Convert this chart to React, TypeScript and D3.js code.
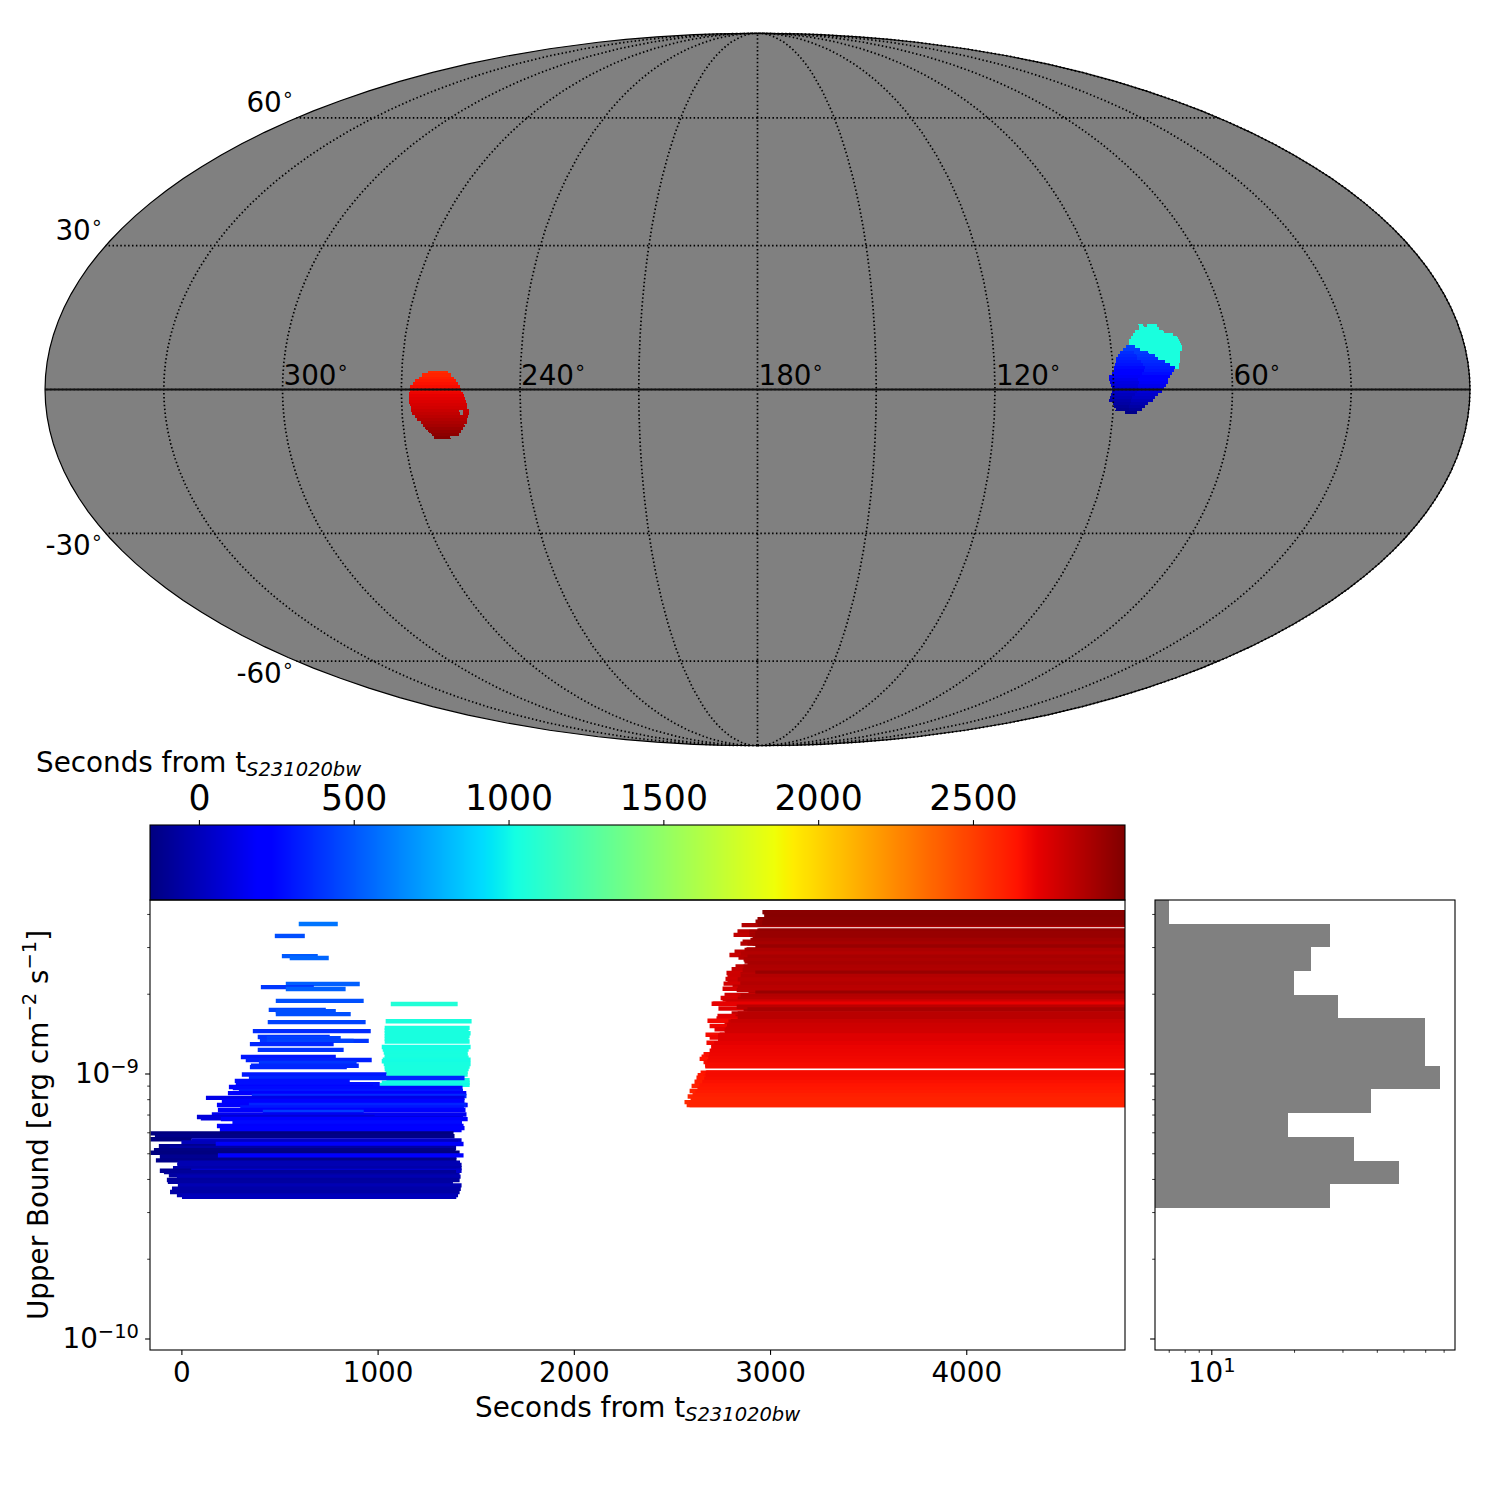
import { useRef, useEffect } from 'react';
import * as d3 from 'd3';

// [start s, end s, log10 upper bound]
const cyanBars = [
  [1067, 1408, -8.738], [1041, 1479, -8.803], [1036, 1469, -8.828], [1036, 1464, -8.838],
  [1036, 1474, -8.848], [1036, 1469, -8.859], [1036, 1464, -8.869], [1036, 1469, -8.879],
  [1021, 1474, -8.9], [1026, 1464, -8.91], [1031, 1459, -8.921], [1036, 1459, -8.932],
  [1036, 1464, -8.94], [1026, 1474, -8.948], [1021, 1469, -8.954], [1031, 1474, -8.964],
  [1036, 1469, -8.974], [1036, 1464, -8.983], [1041, 1459, -8.994], [1046, 1459, -9.004],
  [1045, 1469, -9.025], [1021, 1469, -9.035], [1011, 1469, -9.043],
];

const blueBars = [
  [598, 797, -8.436], [476, 629, -8.481], [512, 695, -8.557], [552, 751, -8.564],
  [532, 909, -8.662], [405, 675, -8.674], [532, 837, -8.681], [481, 929, -8.726],
  [445, 736, -8.76], [481, 787, -8.765], [481, 863, -8.776], [440, 939, -8.806],
  [364, 965, -8.84], [389, 756, -8.862], [435, 812, -8.867], [400, 955, -8.877],
  [435, 878, -8.877], [349, 776, -8.889], [389, 827, -8.911], [303, 787, -8.938],
  [328, 970, -8.949], [395, 893, -8.96], [354, 904, -8.971], [349, 843, -8.976],
  [308, 1045, -9.004], [344, 1443, -9.017], [272, 858, -9.028], [277, 1011, -9.04],
  [242, 977, -9.051], [262, 1433, -9.055], [293, 1435, -9.066], [237, 1452, -9.074],
  [359, 1453, -9.085], [125, 1443, -9.092], [206, 1443, -9.104], [230, 1440, -9.111],
  [181, 1459, -9.119], [344, 1452, -9.119], [300, 1440, -9.128], [186, 1448, -9.138],
  [415, 929, -9.145], [155, 1453, -9.155], [79, 985, -9.164], [99, 1435, -9.169],
  [201, 1459, -9.172], [260, 1430, -9.185], [181, 1438, -9.198], [216, 1443, -9.206],
  [196, 1428, -9.213], [-157, 1387, -9.226], [-135, 1392, -9.237], [-157, 53, -9.248],
  [52, 1428, -9.253], [0, 1410, -9.26], [-115, 1397, -9.274], [175, 1438, -9.266],
  [-60, 1400, -9.281], [-140, 1397, -9.289], [-157, 1418, -9.299], [-110, 1402, -9.314],
  [186, 1438, -9.309], [-130, 1402, -9.328], [-20, 1420, -9.337], [-21, 1428, -9.345],
  [-43, 1428, -9.357], [-110, 1400, -9.367], [50, 1428, -9.367], [-89, 1400, -9.372],
  [-64, 1418, -9.384], [-23, 1423, -9.389], [-74, 1418, -9.402], [-69, 1384, -9.409],
  [-18, 1428, -9.422], [-48, 1424, -9.435], [-58, 1418, -9.447], [-23, 1410, -9.459],
  [3, 1401, -9.465],
];

// these all run past the right edge, [start s, log10 upper bound]
const redEnd = 5000;
const redBars = [
  [2961, -8.391], [2987, -8.402], [2936, -8.418], [2926, -8.427], [2855, -8.44], [2936, -8.436],
  [2834, -8.464], [2941, -8.461], [2895, -8.466], [2814, -8.477], [2895, -8.477], [2911, -8.491],
  [2860, -8.503], [2849, -8.51], [2911, -8.51], [2987, -8.521], [2880, -8.532], [2819, -8.54],
  [2895, -8.547], [2793, -8.553], [2839, -8.562], [2865, -8.569], [2870, -8.578], [2895, -8.584],
  [2824, -8.596], [2804, -8.606], [2916, -8.62], [2778, -8.621], [2849, -8.625], [2783, -8.632],
  [2773, -8.643], [2849, -8.645], [2783, -8.654], [2763, -8.661], [2849, -8.66], [2809, -8.672],
  [2758, -8.68], [2890, -8.695], [2768, -8.704], [2839, -8.713], [2748, -8.715], [2758, -8.72],
  [2773, -8.729], [2702, -8.737], [2737, -8.755], [2865, -8.758], [2804, -8.773], [2732, -8.783],
  [2824, -8.786], [2727, -8.792], [2681, -8.801], [2788, -8.805], [2768, -8.817], [2692, -8.821],
  [2717, -8.833], [2768, -8.836], [2671, -8.854], [2743, -8.854], [2692, -8.864], [2743, -8.874],
  [2676, -8.884], [2702, -8.896], [2692, -8.914], [2661, -8.927], [2651, -8.937], [2671, -8.939],
  [2641, -8.945], [2661, -8.957], [2671, -8.97], [2646, -8.997], [2676, -8.997], [2631, -9.006],
  [2661, -9.012], [2625, -9.016], [2615, -9.031], [2656, -9.046], [2600, -9.047], [2590, -9.066],
  [2580, -9.087], [2564, -9.108], [2575, -9.119],
];
// the later starts that show as the stripes further right
const redInnerBars = [
  [2965, -8.391], [2970, -8.405], [2965, -8.418], [2960, -8.431], [2935, -8.461], [2925, -8.471],
  [2925, -8.484], [2900, -8.496], [2885, -8.509], [2925, -8.521], [2870, -8.534], [2850, -8.547],
  [2885, -8.559], [2870, -8.572], [2885, -8.584], [2865, -8.597], [2860, -8.609], [2925, -8.62],
  [2850, -8.632], [2835, -8.645], [2850, -8.66], [2835, -8.675], [2830, -8.685], [2925, -8.695],
  [2850, -8.706], [2835, -8.718], [2780, -8.728], [2710, -8.737], [2830, -8.748], [2885, -8.758],
  [2835, -8.773], [2835, -8.788], [2800, -8.803], [2781, -8.817], [2775, -8.831], [2770, -8.843],
  [2735, -8.856], [2735, -8.871], [2715, -8.886], [2700, -8.901], [2695, -8.916], [2690, -8.929],
  [2685, -8.942], [2680, -8.954], [2670, -8.967], [2670, -8.973], [2672, -8.997], [2672, -9.007],
  [2665, -9.02], [2655, -9.032], [2640, -9.045], [2630, -9.057], [2620, -9.07], [2605, -9.082],
  [2595, -9.095], [2590, -9.108], [2590, -9.119],
];

// histogram of the upper bounds
const histEdgesLog = [-8.345, -8.436, -8.523, -8.613, -8.704, -8.791, -8.881, -8.972, -9.058, -9.149, -9.24, -9.33, -9.417, -9.508];
const histCounts = [7, 27, 23, 20, 29, 60, 60, 68, 38, 19, 33, 48, 27];

// sky rows: [lat, lon east end, lon west end, seconds east half, seconds west half]
const skyCyanRows = [
  [13.06, 82.1, 80.9, 1040, 1040], [13.06, 80.0, 77.4, 1040, 1040], [12.45, 82.2, 77.1, 1040, 1040],
  [11.83, 83.4, 76.0, 1040, 1040], [11.2, 84.0, 73.7, 1040, 1040], [10.6, 84.6, 72.7, 1040, 1040],
  [10.0, 85.2, 72.4, 1040, 1040], [9.37, 85.3, 72.2, 1040, 1040], [8.76, 83.9, 72.0, 1040, 1040],
  [8.15, 82.7, 72.1, 1040, 1040], [7.53, 80.7, 72.7, 1040, 1040], [6.92, 79.1, 72.8, 1040, 1040],
  [6.3, 78.4, 72.8, 1040, 1040], [5.69, 76.7, 72.9, 1040, 1040], [5.08, 75.5, 73.2, 1040, 1040],
  [4.46, 74.3, 73.4, 1040, 1040],
];
const skyBlueRows = [
  [8.76, 86.2, 83.9, 430, 430], [8.15, 87.0, 82.7, 420, 420], [7.53, 87.9, 80.7, 370, 420],
  [6.92, 88.5, 79.1, 350, 400], [6.3, 89.1, 78.4, 330, 380], [5.69, 89.1, 76.7, 310, 360],
  [5.08, 89.4, 75.5, 290, 340], [4.46, 89.7, 74.3, 260, 320], [3.85, 89.8, 74.6, 240, 300],
  [3.23, 90.3, 75.2, 210, 270], [2.62, 91.1, 75.7, 170, 230], [2.0, 91.2, 76.3, 140, 200],
  [1.39, 90.9, 76.3, 110, 170], [0.78, 90.7, 76.8, 90, 140], [0.16, 90.4, 77.3, 60, 110],
  [-0.45, 90.4, 77.8, 40, 80], [-1.06, 90.7, 78.7, 10, 50], [-1.68, 90.9, 79.6, -10, 30],
  [-2.29, 91.2, 80.0, -40, 0], [-2.9, 90.1, 81.3, -60, -30], [-3.52, 89.9, 82.0, -90, -60],
  [-4.13, 89.4, 82.8, -110, -90], [-4.75, 87.0, 84.0, -130, -130],
];
const skyRedRows = [
  [3.58, 263.3, 258.2, 2570, 2570], [2.97, 264.8, 257.5, 2590, 2590],
  [2.35, 265.6, 256.7, 2610, 2610], [1.74, 266.6, 256.2, 2630, 2630], [1.13, 267.0, 255.7, 2650, 2650],
  [0.51, 267.8, 255.2, 2665, 2665], [-0.1, 267.8, 254.9, 2680, 2680], [-0.72, 268.0, 254.4, 2695, 2695],
  [-1.33, 268.0, 254.2, 2710, 2710], [-1.94, 268.0, 253.9, 2725, 2725], [-2.56, 268.0, 253.7, 2740, 2740],
  [-3.17, 267.9, 253.5, 2755, 2755], [-3.79, 267.7, 253.5, 2770, 2770], [-4.4, 267.7, 255.6, 2790, 2790],
  [-4.4, 254.6, 253.0, 2790, 2790], [-5.01, 267.5, 255.4, 2810, 2810], [-5.01, 254.6, 253.0, 2810, 2810],
  [-5.63, 266.8, 253.4, 2830, 2830], [-6.24, 266.4, 253.7, 2850, 2850], [-6.86, 265.4, 253.7, 2870, 2870],
  [-7.47, 265.0, 254.4, 2890, 2890], [-8.08, 264.4, 254.9, 2915, 2915], [-8.7, 263.7, 255.5, 2935, 2935],
  [-9.31, 263.0, 256.1, 2955, 2955], [-9.93, 262.4, 258.3, 2975, 2975],
];

const lonLabels = [300, 240, 180, 120, 60];
const latLabels = [
  { lat: '60', right: 294, base: 112 },
  { lat: '30', right: 103, base: 240 },
  { lat: '-30', right: 103, base: 555 },
  { lat: '-60', right: 294, base: 683 },
];
const colorbarTicks = [0, 500, 1000, 1500, 2000, 2500];
const timeTicks = [0, 1000, 2000, 3000, 4000];
const ubMajor = [1e-9, 1e-10];
const ubMinor = [2e-10, 3e-10, 4e-10, 5e-10, 6e-10, 7e-10, 8e-10, 9e-10, 2e-9, 3e-9, 4e-9];
const countMinor = [7, 8, 9, 20, 30, 40, 50, 60, 70];

const FONT = 'DejaVu Sans';
const FS = 27.8;
const GREY = '#808080';

// matplotlib's jet segments
const jetR = d3.scaleLinear().domain([0, 0.35, 0.66, 0.89, 1]).range([0, 0, 1, 1, 0.5]);
const jetG = d3.scaleLinear().domain([0, 0.125, 0.375, 0.64, 0.91, 1]).range([0, 0, 1, 1, 0, 0]);
const jetB = d3.scaleLinear().domain([0, 0.11, 0.34, 0.65, 1]).range([0.5, 1, 1, 0, 0]);
const jet = (f) => d3.rgb(jetR(f) * 255, jetG(f) * 255, jetB(f) * 255).formatRgb();

const mollweideRaw = (lambda, phi) => {
  let theta = phi;
  if (Math.abs(Math.abs(phi) - Math.PI / 2) > 1e-6) {
    for (let i = 0; i < 30; i++) {
      theta -= (2 * theta + Math.sin(2 * theta) - Math.PI * Math.sin(phi)) / (2 + 2 * Math.cos(2 * theta));
    }
  }
  return [(2 * Math.SQRT2 / Math.PI) * lambda * Math.cos(theta), Math.SQRT2 * Math.sin(theta)];
};

const App = () => {
  const svgRef = useRef(null);

  useEffect(() => {
    const svg = d3.select(svgRef.current);
    svg.selectAll('*').remove();

    const timeColor = d3.scaleLinear().domain([-158, 2991]).range([0, 1]);

    // ---- sky map
    const projection = d3.geoProjection(mollweideRaw)
      .rotate([-180, 0])
      .reflectX(true)
      .scale(251.9)
      .translate([757.5, 389.5])
      .precision(0.3);
    const path = d3.geoPath(projection);
    const sky = svg.append('g');
    sky.append('path').datum({ type: 'Sphere' }).attr('d', path).attr('fill', GREY);

    const cellHalf = 0.31;
    const cellPath = (lat, a, b) => {
      const p = [[a, lat + cellHalf], [b, lat + cellHalf], [b, lat - cellHalf], [a, lat - cellHalf]].map((c) => projection(c));
      return 'M' + p.join('L') + 'Z';
    };
    [skyCyanRows, skyBlueRows, skyRedRows].forEach((rows) => {
      rows.forEach(([lat, east, west, tEast, tWest]) => {
        const mid = (east + west) / 2;
        sky.append('path').attr('d', cellPath(lat, east, mid)).attr('fill', jet(timeColor(tEast))).attr('shape-rendering', 'crispEdges');
        sky.append('path').attr('d', cellPath(lat, mid, west)).attr('fill', jet(timeColor(tWest))).attr('shape-rendering', 'crispEdges');
      });
    });

    const graticule = d3.geoGraticule().extent([[-180, -90], [180.01, 90.01]]).step([30, 30]);
    sky.append('path').datum(graticule()).attr('d', path)
      .attr('fill', 'none').attr('stroke', '#000').attr('stroke-width', 1.7).attr('stroke-dasharray', '1.5 2.4');
    sky.append('path')
      .datum({ type: 'LineString', coordinates: [[0.01, 0], [90, 0], [180, 0], [270, 0], [359.99, 0]] })
      .attr('d', path).attr('fill', 'none').attr('stroke', '#111').attr('stroke-width', 1.8);
    sky.append('path').datum({ type: 'Sphere' }).attr('d', path)
      .attr('fill', 'none').attr('stroke', '#000').attr('stroke-width', 1.2);

    const ring = (sel) => sel.append('tspan').attr('font-size', 19.5).attr('dy', -11).text('\u2218');
    lonLabels.forEach((lon) => {
      const [x] = projection([lon, 0]);
      const t = sky.append('text').attr('x', x + 1).attr('y', 385).attr('font-family', FONT).attr('font-size', FS).text(lon);
      ring(t);
    });
    latLabels.forEach((d) => {
      const t = sky.append('text').attr('x', d.right).attr('y', d.base).attr('text-anchor', 'end')
        .attr('font-family', FONT).attr('font-size', FS).text(d.lat);
      ring(t);
    });

    const secondsLabel = (x, y) => {
      const t = svg.append('text').attr('x', x).attr('y', y).attr('font-family', FONT).attr('font-size', FS).text('Seconds from t');
      t.append('tspan').attr('font-size', 19.5).attr('font-style', 'italic').attr('dy', 4).text('S231020bw');
    };

    // ---- colorbar
    const cbX = d3.scaleLinear().domain([-158, 2991]).range([150, 1125]);
    const cb = svg.append('g');
    cb.selectAll('rect.level').data(d3.range(150, 1125)).join('rect')
      .attr('class', 'level')
      .attr('x', (d) => d)
      .attr('y', 825)
      .attr('width', 1)
      .attr('height', 75)
      .attr('shape-rendering', 'crispEdges')
      .attr('fill', (d) => jet(timeColor(cbX.invert(d + 0.5))));
    cb.append('rect').attr('x', 150).attr('y', 825).attr('width', 975).attr('height', 75)
      .attr('fill', 'none').attr('stroke', '#000').attr('stroke-width', 1.1);
    const cbAxis = cb.append('g').attr('transform', 'translate(0,825)')
      .call(d3.axisTop(cbX).tickValues(colorbarTicks).tickSize(4.9).tickPadding(10).tickFormat((d) => d));
    cbAxis.select('.domain').remove();
    cbAxis.selectAll('line').attr('stroke-width', 1.1);
    cbAxis.selectAll('text').attr('font-family', FONT).attr('font-size', 34.7);
    secondsLabel(36, 772);

    // ---- upper bound vs time
    const x = d3.scaleLinear().domain([-160, 4809]).range([150, 1125]);
    const y = d3.scaleLog().domain([10 ** -10.0434, 10 ** -8.3453]).range([1350, 900]);

    svg.append('clipPath').attr('id', 'plot-clip').append('rect').attr('x', 150).attr('y', 900).attr('width', 975).attr('height', 450);
    const bars = svg.append('g').attr('clip-path', 'url(#plot-clip)').attr('stroke-width', 4.4);
    const drawBar = (t0, t1, lg) => {
      bars.append('line')
        .attr('x1', x(t0)).attr('x2', x(t1))
        .attr('y1', y(10 ** lg)).attr('y2', y(10 ** lg))
        .attr('stroke', jet(timeColor(t0)));
    };
    cyanBars.forEach(([a, b, lg]) => drawBar(a, b, lg));
    blueBars.forEach(([a, b, lg]) => drawBar(a, b, lg));
    redBars.forEach(([a, lg]) => drawBar(a, redEnd, lg));
    redInnerBars.forEach(([a, lg]) => drawBar(a, redEnd, lg));

    const frame = (left, width) => svg.append('rect').attr('x', left).attr('y', 900).attr('width', width).attr('height', 450)
      .attr('fill', 'none').attr('stroke', '#000').attr('stroke-width', 1.1);
    const ubTicks = (left, withLabels) => {
      const major = svg.append('g').attr('transform', `translate(${left},0)`)
        .call(d3.axisLeft(y).tickValues(ubMajor).tickSize(4.9).tickPadding(4.9).tickFormat(() => ''));
      const minor = svg.append('g').attr('transform', `translate(${left},0)`)
        .call(d3.axisLeft(y).tickValues(ubMinor).tickSize(2.8).tickFormat(() => ''));
      major.select('.domain').remove();
      minor.select('.domain').remove();
      major.selectAll('line').attr('stroke-width', 1.1);
      minor.selectAll('line').attr('stroke-width', 0.8);
      if (!withLabels) return;
      major.selectAll('.tick').each(function (d) {
        const exp = Math.round(Math.log10(d));
        const t = d3.select(this).select('text')
          .attr('x', -11).attr('y', 9.5).attr('dy', null)
          .attr('font-family', FONT).attr('font-size', FS).attr('text-anchor', 'end').text('10');
        t.append('tspan').attr('font-size', 19.5).attr('dy', -10.5).text('\u2212' + Math.abs(exp));
      });
    };

    frame(150, 975);
    ubTicks(150, true);
    const xAxis = svg.append('g').attr('transform', 'translate(0,1350)')
      .call(d3.axisBottom(x).tickValues(timeTicks).tickSize(4.9).tickPadding(6.9).tickFormat((d) => d));
    xAxis.select('.domain').remove();
    xAxis.selectAll('line').attr('stroke-width', 1.1);
    xAxis.selectAll('text').attr('font-family', FONT).attr('font-size', FS);
    secondsLabel(475, 1417);

    const yLabel = svg.append('text').attr('transform', 'translate(48,1125) rotate(-90)')
      .attr('text-anchor', 'middle').attr('font-family', FONT).attr('font-size', FS).text('Upper Bound [erg cm');
    yLabel.append('tspan').attr('font-size', 19.5).attr('dy', -12).text('\u22122');
    yLabel.append('tspan').attr('dy', 12).text(' s');
    yLabel.append('tspan').attr('font-size', 19.5).attr('dy', -12).text('\u22121');
    yLabel.append('tspan').attr('dy', 12).text(']');

    // ---- histogram on the side
    const hx = d3.scaleLog().domain([6.24, 77]).range([1155, 1455]);
    svg.append('g').selectAll('rect').data(histCounts).join('rect')
      .attr('x', 1155)
      .attr('y', (_, i) => y(10 ** histEdgesLog[i]))
      .attr('width', (d) => hx(d) - 1155)
      .attr('height', (_, i) => y(10 ** histEdgesLog[i + 1]) - y(10 ** histEdgesLog[i]))
      .attr('fill', GREY)
      .attr('shape-rendering', 'crispEdges');
    frame(1155, 300);
    ubTicks(1155, false);

    const hMajor = svg.append('g').attr('transform', 'translate(0,1350)')
      .call(d3.axisBottom(hx).tickValues([10]).tickSize(4.9).tickPadding(4.9).tickFormat(() => ''));
    const hMinor = svg.append('g').attr('transform', 'translate(0,1350)')
      .call(d3.axisBottom(hx).tickValues(countMinor).tickSize(2.8).tickFormat(() => ''));
    hMajor.select('.domain').remove();
    hMinor.select('.domain').remove();
    hMajor.selectAll('line').attr('stroke-width', 1.1);
    hMinor.selectAll('line').attr('stroke-width', 0.8);
    const hLabel = hMajor.select('.tick text').attr('y', 32).attr('dy', null)
      .attr('font-family', FONT).attr('font-size', FS).text('10');
    hLabel.append('tspan').attr('font-size', 19.5).attr('dy', -10).text('1');
  }, []);

  return <svg ref={svgRef} width={1500} height={1500} style={{ position: 'absolute', left: 0, top: 0, background: '#fff' }} />;
};

export default App;
